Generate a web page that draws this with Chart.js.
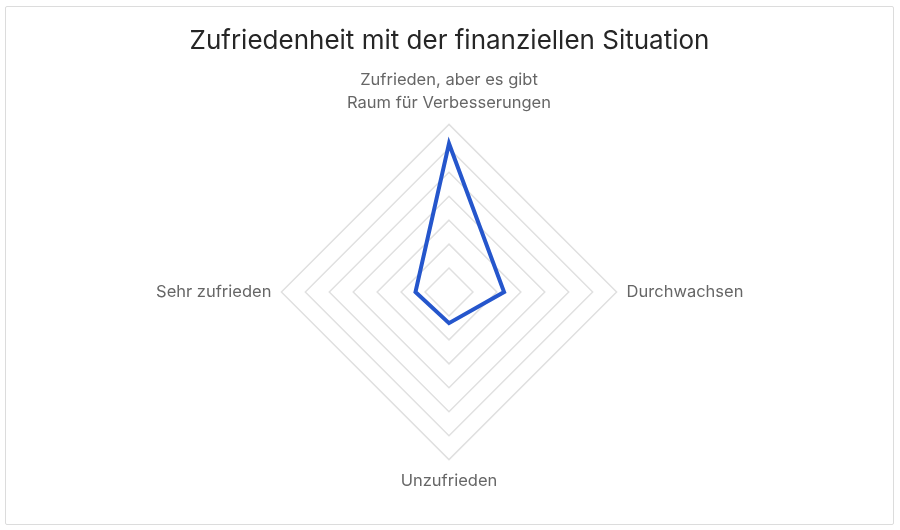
<!DOCTYPE html>
<html>
<head>
<meta charset="utf-8">
<script src="https://cdn.jsdelivr.net/npm/chart.js@4"></script>
<style>
  html, body { margin: 0; padding: 0; background: #fff; }
  #frame {
    position: absolute; left: 5px; top: 6px;
    width: 887px; height: 517px;
    border: 1px solid #dcdcdc; border-radius: 2px;
  }
  #chart { display: block; }
</style>
</head>
<body>
<div id="frame"><canvas id="chart" width="887" height="517"></canvas></div>
<script>
const categories = [
  ['Zufrieden, aber es gibt', 'Raum für Verbesserungen'],
  'Durchwachsen',
  'Unzufrieden',
  'Sehr zufrieden'
];
const values = [62, 23, 13, 14];
const tickMax = 70;
const tickStep = 10;

const ctx = document.getElementById('chart').getContext('2d');
new Chart(ctx, {
  type: 'radar',
  data: {
    labels: categories,
    datasets: [{
      label: 'Anteil',
      data: values,
      borderColor: '#2556cc',
      borderWidth: 4,
      fill: false,
      pointRadius: 0,
      pointHoverRadius: 0
    }]
  },
  options: {
    responsive: false,
    animation: false,
    layout: { padding: { top: 0, bottom: 19, left: 0, right: 0 } },
    plugins: {
      legend: { display: false },
      tooltip: { enabled: false },
      title: {
        display: true,
        text: 'Zufriedenheit mit der finanziellen Situation',
        color: '#262626',
        font: { family: 'Inter', size: 26, weight: 'normal' },
        padding: { top: 19, bottom: 0 }
      }
    },
    scales: {
      r: {
        min: 0,
        max: tickMax,
        ticks: { stepSize: tickStep, display: false },
        angleLines: { display: false },
        grid: { color: '#e0e0e0', lineWidth: 1.5 },
        pointLabels: {
          color: '#666666',
          padding: 10,
          font: { family: 'Inter', size: 16.5, lineHeight: 1.4 }
        }
      }
    }
  }
});
</script>
</body>
</html>
